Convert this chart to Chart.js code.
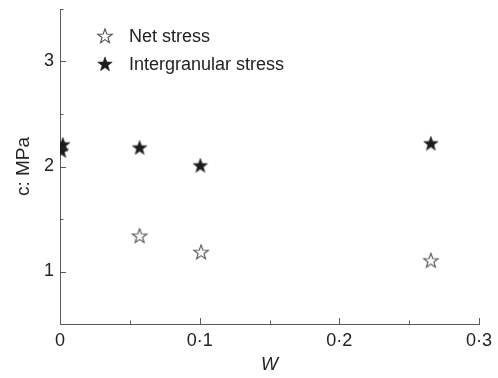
<!DOCTYPE html>
<html>
<head>
<meta charset="utf-8">
<script src="https://cdn.jsdelivr.net/npm/chart.js@4/dist/chart.umd.min.js"></script>
<style>
  html, body { margin: 0; padding: 0; background: #ffffff; }
  canvas { display: block; }
</style>
</head>
<body>
<canvas id="c" width="498" height="378"></canvas>
<script>
// Cohesion c against W for the two stress definitions
const netW = [0.057, 0.101, 0.2655];
const netC = [1.34, 1.185, 1.105];
const interW = [0.002, 0.001, 0.057, 0.1005, 0.2655];
const interC = [2.21, 2.15, 2.18, 2.01, 2.22];

const seriesNames = ['Net stress', 'Intergranular stress'];

// Axis ticks (major ones get labels, all get inward marks)
const xTickValues = [0, 0.05, 0.1, 0.15, 0.2, 0.25, 0.3];
const xTickLabels = ['0', '0·1', '0·2', '0·3'];
const yTickValues = [0.5, 1, 1.5, 2, 2.5, 3, 3.5];
const yTickLabels = ['1', '2', '3'];

const FONT = '"Liberation Sans", Arial, sans-serif';
const TEXT = '#222222';
const AXIS = '#5a5a5a';

function makeStar(fill, stroke, lw) {
  const size = 20;
  const cv = document.createElement('canvas');
  cv.width = size; cv.height = size;
  const g = cv.getContext('2d');
  const cx = size / 2, cy = size / 2 + 0.5, ro = 7.6, ri = 3.1;
  g.beginPath();
  for (let i = 0; i < 10; i++) {
    const r = i % 2 === 0 ? ro : ri;
    const a = -Math.PI / 2 + i * Math.PI / 5;
    const px = cx + r * Math.cos(a), py = cy + r * Math.sin(a);
    if (i === 0) g.moveTo(px, py); else g.lineTo(px, py);
  }
  g.closePath();
  g.fillStyle = fill;
  g.fill();
  if (stroke) { g.strokeStyle = stroke; g.lineWidth = lw; g.stroke(); }
  return cv;
}

const openStar = makeStar('#ffffff', '#505050', 1.1);
const solidStar = makeStar('#1c1c1c', '#1c1c1c', 0.6);

const toPoints = (xs, ys) => xs.map((x, i) => ({ x: x, y: ys[i] }));

// Inward tick marks on the two drawn axes
const tickMarks = {
  id: 'tickMarks',
  afterDraw(chart) {
    const { ctx, scales: { x, y } } = chart;
    ctx.save();
    ctx.strokeStyle = AXIS;
    ctx.lineWidth = 1;
    ctx.beginPath();
    xTickValues.forEach((v, i) => {
      const px = Math.round(x.getPixelForValue(v)) + 0.5;
      const len = i % 2 === 0 ? 6 : 3.5;
      ctx.moveTo(px, y.bottom);
      ctx.lineTo(px, y.bottom - len);
    });
    yTickValues.forEach((v, i) => {
      const py = Math.round(y.getPixelForValue(v)) + 0.5;
      const len = i % 2 === 1 ? 6 : 3.5;
      ctx.moveTo(x.left, py);
      ctx.lineTo(x.left + len, py);
    });
    ctx.stroke();
    ctx.restore();
  }
};

// Legend placed inside the plot, upper left
const innerLegend = {
  id: 'innerLegend',
  afterDraw(chart) {
    const { ctx, chartArea } = chart;
    const icons = [openStar, solidStar];
    ctx.save();
    ctx.font = '18px ' + FONT;
    ctx.fillStyle = TEXT;
    ctx.textBaseline = 'middle';
    seriesNames.forEach((name, i) => {
      const cy = chartArea.top + 27 + i * 28;
      const ix = chartArea.left + 45;
      ctx.drawImage(icons[i], ix - icons[i].width / 2, cy - icons[i].height / 2);
      ctx.fillText(name, chartArea.left + 69, cy + 1);
    });
    ctx.restore();
  }
};

new Chart(document.getElementById('c'), {
  type: 'scatter',
  data: {
    datasets: [
      {
        label: seriesNames[0],
        data: toPoints(netW, netC),
        pointStyle: openStar,
        pointRadius: 8,
        pointHoverRadius: 8
      },
      {
        label: seriesNames[1],
        data: toPoints(interW, interC),
        pointStyle: solidStar,
        pointRadius: 8,
        pointHoverRadius: 8
      }
    ]
  },
  options: {
    responsive: false,
    devicePixelRatio: 1,
    animation: false,
    events: [],
    layout: { padding: { top: 8, right: 19, left: 0, bottom: 0 } },
    plugins: {
      legend: { display: false },
      tooltip: { enabled: false }
    },
    scales: {
      x: {
        type: 'linear',
        min: 0,
        max: 0.3,
        grid: { display: false, drawTicks: false, tickLength: 0 },
        border: { display: true, color: AXIS, width: 1 },
        ticks: {
          stepSize: 0.1,
          padding: 6,
          color: TEXT,
          font: { family: FONT, size: 18 },
          maxRotation: 0,
          callback: (v) => {
            const i = Math.round(v * 10);
            return Math.abs(v * 10 - i) < 1e-6 && xTickLabels[i] !== undefined ? xTickLabels[i] : '';
          }
        },
        title: {
          display: true,
          text: 'W',
          color: TEXT,
          font: { family: FONT, size: 18, style: 'italic' },
          padding: { top: 0, bottom: 2 }
        },
        afterFit: (s) => { s.height = 54; s.paddingLeft = 0; s.paddingRight = 0; }
      },
      y: {
        type: 'linear',
        min: 0.5,
        max: 3.5,
        grid: { display: false, drawTicks: false, tickLength: 0 },
        border: { display: true, color: AXIS, width: 1 },
        ticks: {
          stepSize: 0.5,
          padding: 6,
          color: TEXT,
          font: { family: FONT, size: 18 },
          autoSkip: false,
          callback: (v) => {
            const i = Math.round(v);
            return Math.abs(v - i) < 1e-6 && i >= 1 && i <= 3 ? yTickLabels[i - 1] : '';
          }
        },
        title: {
          display: true,
          text: 'c: MPa',
          color: TEXT,
          font: { family: FONT, size: 19 },
          padding: { top: 12, bottom: 0 }
        },
        afterFit: (s) => { s.width = 60; s.paddingTop = 0; s.paddingBottom = 0; }
      }
    }
  },
  plugins: [tickMarks, innerLegend]
});
</script>
</body>
</html>
